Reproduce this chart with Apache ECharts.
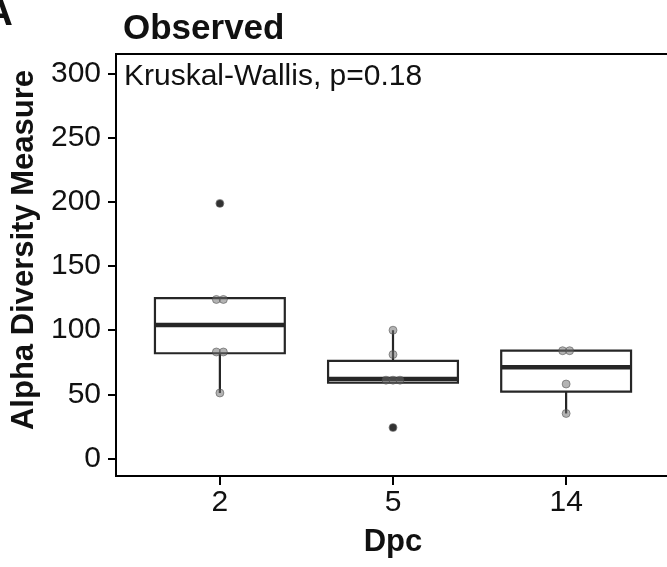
<!DOCTYPE html>
<html>
<head>
<meta charset="utf-8">
<script src="https://cdn.jsdelivr.net/npm/echarts@6/dist/echarts.min.js"></script>
<style>
html,body{margin:0;padding:0;background:#fff;}
#chart{width:667px;height:567px;}
</style>
</head>
<body>
<div id="chart"></div>
<script>
// ---- data ----
const categories = ['2', '5', '14'];
const yTicks = [0, 50, 100, 150, 200, 250, 300];
// box statistics per category (lower whisker, Q1, median, Q3, upper whisker)
const whiskerLow = [51, 59, 35];
const quart1 = [82, 59, 52];
const medians = [104, 62, 71];
const quart3 = [125, 76, 84];
const whiskerHigh = [125, 100, 84];
// outliers (category index, value)
const outlierGroup = [0, 1];
const outlierValue = [199, 24];
// individual samples per category
const samplesDpc2 = [199, 124, 124, 83, 83, 51];
const samplesDpc5 = [100, 81, 61, 61, 61, 24];
const samplesDpc14 = [84, 84, 58, 35];
const testLabel = 'Kruskal-Wallis, p=0.18';

const FONT = '"Liberation Sans", Arial, Helvetica, sans-serif';
const INK = '#111';
const BOX = '#262626';

const allSamples = [samplesDpc2, samplesDpc5, samplesDpc14];
const boxData = categories.map((c, i) => [i + 1, whiskerLow[i], quart1[i], medians[i], quart3[i], whiskerHigh[i]]);
const outlierData = outlierGroup.map((g, i) => [g + 1, outlierValue[i]]);
const pointData = [];
allSamples.forEach((vals, gi) => {
  const counts = {};
  vals.forEach(v => { counts[v] = (counts[v] || 0) + 1; });
  const seen = {};
  vals.forEach(v => {
    const k = seen[v] || 0; seen[v] = k + 1;
    const n = counts[v];
    pointData.push({ value: [gi + 1, v], symbolOffset: [(k - (n - 1) / 2) * 7, 0] });
  });
});

function renderBox(params, api) {
  const x = api.value(0);
  const lo = api.value(1), q1 = api.value(2), med = api.value(3), q3 = api.value(4), hi = api.value(5);
  const hw = 0.375;
  const tl = api.coord([x - hw, q3]);
  const br = api.coord([x + hw, q1]);
  const ml = api.coord([x - hw, med]);
  const mr = api.coord([x + hw, med]);
  const cx = api.coord([x, med])[0];
  const yl = api.coord([x, lo])[1];
  const yh = api.coord([x, hi])[1];
  return {
    type: 'group',
    children: [
      { type: 'line', shape: { x1: cx, y1: tl[1], x2: cx, y2: yh }, style: { stroke: BOX, lineWidth: 2.2 } },
      { type: 'line', shape: { x1: cx, y1: br[1], x2: cx, y2: yl }, style: { stroke: BOX, lineWidth: 2.2 } },
      { type: 'rect', shape: { x: tl[0], y: tl[1], width: br[0] - tl[0], height: br[1] - tl[1] }, style: { fill: '#fff', stroke: BOX, lineWidth: 2.2 } },
      { type: 'line', shape: { x1: ml[0], y1: ml[1], x2: mr[0], y2: mr[1] }, style: { stroke: BOX, lineWidth: 4.5 } }
    ]
  };
}

const chart = echarts.init(document.getElementById('chart'), null, { renderer: 'canvas' });
chart.setOption({
  backgroundColor: '#fff',
  animation: false,
  title: [
    { text: 'A', left: -21, top: -11, textStyle: { fontFamily: FONT, fontSize: 40, fontWeight: 'bold', color: INK } },
    { text: 'Observed', left: 118, top: 7, textStyle: { fontFamily: FONT, fontSize: 35, fontWeight: 'bold', color: INK } },
    { text: testLabel, left: 119, top: 57, textStyle: { fontFamily: FONT, fontSize: 30, fontWeight: 'normal', color: INK } }
  ],
  grid: {
    left: 116, top: 54, width: 554, bottom: 91,
    outerBoundsMode: 'none', containLabel: false,
    show: true, borderColor: '#000', borderWidth: 2, backgroundColor: '#fff'
  },
  xAxis: {
    type: 'value', min: 0.4, max: 3.6,
    name: 'Dpc', nameLocation: 'middle', nameGap: 51,
    nameTextStyle: { fontFamily: FONT, fontSize: 31, fontWeight: 'bold', color: INK },
    axisLine: { show: true, onZero: false, lineStyle: { color: '#000', width: 2 } },
    axisTick: { show: true, length: 9, customValues: [1, 2, 3], lineStyle: { color: '#000', width: 2 } },
    axisLabel: { show: true, margin: 12, customValues: [1, 2, 3], fontFamily: FONT, fontSize: 30, color: INK,
      formatter: v => categories[Math.round(v) - 1] },
    splitLine: { show: false }
  },
  yAxis: {
    type: 'value', min: -13.8, max: 315.6,
    name: 'Alpha Diversity Measure', nameLocation: 'middle', nameGap: 74, nameRotate: 90,
    nameTextStyle: { fontFamily: FONT, fontSize: 31, fontWeight: 'bold', color: INK, padding: [0, 0, 0, 30] },
    axisLine: { show: true, onZero: false, lineStyle: { color: '#000', width: 2 } },
    axisTick: { show: true, length: 8, customValues: yTicks, lineStyle: { color: '#000', width: 2 } },
    axisLabel: { show: true, margin: 15, customValues: yTicks, fontFamily: FONT, fontSize: 30, color: INK },
    splitLine: { show: false }
  },
  series: [
    {
      type: 'custom', name: 'box', renderItem: renderBox, data: boxData,
      encode: { x: 0, y: [1, 2, 3, 4, 5] }, z: 2
    },
    {
      type: 'scatter', name: 'samples', data: pointData, symbol: 'circle', symbolSize: 8,
      itemStyle: { color: 'rgba(110,110,110,0.65)', borderColor: 'rgba(70,70,70,0.65)', borderWidth: 1 }, z: 3
    },
    {
      type: 'scatter', name: 'outliers', data: outlierData, symbol: 'circle', symbolSize: 7,
      itemStyle: { color: '#111' }, z: 4
    }
  ]
});
</script>
</body>
</html>
